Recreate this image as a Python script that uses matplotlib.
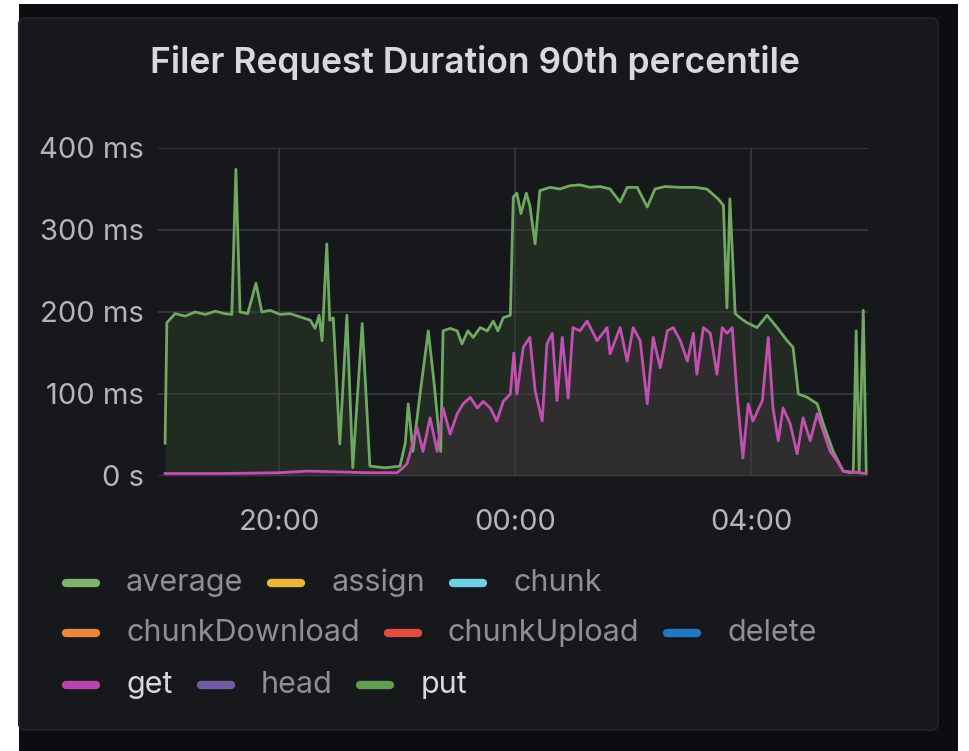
import matplotlib
matplotlib.use('Agg')
import matplotlib.pyplot as plt
from matplotlib.patches import Rectangle, FancyBboxPatch
from matplotlib.lines import Line2D

# hours since 18:00, values in ms
put_h = [0.07, 0.10, 0.24, 0.41, 0.58, 0.75, 0.92, 1.08, 1.20, 1.27, 1.34, 1.47, 1.61, 1.71,
         1.85, 2.02, 2.19, 2.36, 2.53, 2.61, 2.68, 2.73, 2.81, 2.86, 2.92, 3.03, 3.15, 3.25,
         3.41, 3.54, 3.80, 4.05, 4.14, 4.19, 4.27, 4.39, 4.53, 4.63, 4.74, 4.78, 4.90, 5.02,
         5.10, 5.20, 5.29, 5.41, 5.53, 5.63, 5.71, 5.80, 5.92, 5.97, 6.03, 6.10, 6.19, 6.25,
         6.34, 6.42, 6.59, 6.76, 6.93, 7.10, 7.27, 7.44, 7.61, 7.78, 7.90, 8.07, 8.24, 8.37,
         8.54, 8.80, 9.05, 9.25, 9.36, 9.44, 9.53, 9.59, 9.64, 9.73, 9.83, 9.93, 10.10, 10.27,
         10.36, 10.44, 10.61, 10.71, 10.80, 10.95, 11.12, 11.22, 11.39, 11.56, 11.68, 11.73,
         11.78, 11.83, 11.90, 11.95]
put_ms = [40, 187, 198, 195, 200, 197, 201, 198, 197, 374, 200, 198, 235, 200,
          202, 197, 198, 194, 190, 180, 196, 165, 283, 190, 193, 39, 196, 10,
          186, 12, 10, 12, 40, 88, 30, 100, 177, 112, 30, 177, 180, 177,
          161, 177, 169, 181, 177, 189, 177, 193, 196, 340, 345, 320, 345, 330,
          283, 348, 352, 350, 354, 355, 352, 353, 350, 334, 352, 352, 328, 350,
          353, 352, 352, 350, 343, 338, 330, 205, 338, 198, 192, 187, 181, 196,
          188, 181, 165, 157, 100, 96, 88, 64, 30, 6, 4, 5,
          177, 5, 202, 5]

get_h = [0.07, 1.0, 2.0, 2.5, 3.0, 3.5, 4.0, 4.10, 4.17, 4.34, 4.44, 4.56, 4.68, 4.78, 4.90,
         5.02, 5.12, 5.24, 5.36, 5.46, 5.58, 5.69, 5.80, 5.92, 5.98, 6.03, 6.14, 6.25, 6.34,
         6.46, 6.54, 6.63, 6.71, 6.80, 6.90, 6.98, 7.10, 7.22, 7.39, 7.56, 7.61, 7.78, 7.90,
         8.00, 8.12, 8.24, 8.34, 8.46, 8.58, 8.68, 8.80, 8.92, 9.02, 9.08, 9.19, 9.31, 9.42,
         9.51, 9.59, 9.68, 9.76, 9.86, 9.95, 10.03, 10.19, 10.29, 10.37, 10.46, 10.54, 10.66,
         10.78, 10.88, 11.0, 11.12, 11.22, 11.34, 11.46, 11.56, 11.95]
get_ms = [3, 3, 4, 6, 5, 4, 4, 10, 15, 59, 30, 71, 30, 83, 51,
          76, 88, 96, 83, 91, 83, 67, 91, 100, 150, 100, 157, 169, 104,
          67, 161, 174, 92, 169, 95, 181, 177, 189, 165, 181, 149, 181, 140,
          181, 165, 88, 169, 132, 177, 181, 165, 140, 174, 124, 181, 174, 124,
          181, 174, 181, 100, 22, 88, 67, 92, 169, 83, 43, 83, 64,
          27, 71, 43, 76, 55, 30, 18, 6, 3]

y_ticks = [0, 100, 200, 300, 400]
y_labels = ['0 s', '100 ms', '200 ms', '300 ms', '400 ms']
x_ticks = [2, 6, 10]
x_labels = ['20:00', '00:00', '04:00']

legend_rows = [['average', 'assign', 'chunk'],
               ['chunkDownload', 'chunkUpload', 'delete'],
               ['get', 'head', 'put']]
legend_colors = {'average': '#7EB26D', 'assign': '#EAB839', 'chunk': '#6ED0E0',
                 'chunkDownload': '#EF843C', 'chunkUpload': '#E24D42', 'delete': '#1F78C1',
                 'get': '#BA43A9', 'head': '#705DA0', 'put': '#629E51'}
visible = ['get', 'put']

W, H = 969, 751
fig = plt.figure(figsize=(W / 100, H / 100), dpi=100, facecolor='white')
plt.rcParams['font.family'] = ['Inter', 'DejaVu Sans']

def fx(px):
    return px / W

def fy(py):
    return 1 - py / H

# outer dark frame and panel
fig.add_artist(Rectangle((fx(19), 0), fx(958) - fx(19), fy(4), transform=fig.transFigure,
                         facecolor='#0c0d10', edgecolor='none', zorder=0))
fig.add_artist(FancyBboxPatch((fx(19), fy(730)), fx(938) - fx(19), fy(18) - fy(730),
                              boxstyle='round,pad=0,rounding_size=0.008',
                              transform=fig.transFigure, facecolor='#17181c',
                              edgecolor='#202226', lw=1.5, zorder=0))

fig.text(fx(475), fy(62), 'Filer Request Duration 90th percentile', color='#d8d9da',
         fontsize=25.5, fontweight='semibold', ha='center', va='center')

ax = fig.add_axes([fx(158), fy(476), fx(868) - fx(158), fy(148) - fy(476)])
ax.set_facecolor('none')
for s in ax.spines.values():
    s.set_visible(False)

ax.fill_between(put_h, put_ms, 0, color='#508642', alpha=0.18, lw=0, zorder=1)
ax.fill_between(get_h, get_ms, 0, color='#BA43A9', alpha=0.10, lw=0, zorder=1)
ax.plot(put_h, put_ms, color='#6fa860', lw=2.0, zorder=3)
ax.plot(get_h, get_ms, color='#c44fb2', lw=2.0, zorder=3)

ax.set_xlim(-0.05, 11.98)
ax.set_ylim(0, 400)
ax.set_yticks(y_ticks)
ax.set_yticklabels(y_labels)
ax.set_xticks(x_ticks)
ax.set_xticklabels(x_labels)
ax.tick_params(length=0, colors='#b4b5ba', labelsize=21)
ax.tick_params(axis='y', pad=10)
ax.tick_params(axis='x', pad=24)
ax.grid(True, color='#3a3b40', lw=1.2, zorder=0)

# legend, flowed left to right like grafana
renderer = fig.canvas.get_renderer()
row_y = [583, 633, 685]
for names, ry in zip(legend_rows, row_y):
    x = 66
    for name in names:
        fig.add_artist(Line2D([fx(x), fx(x + 30)], [fy(ry), fy(ry)], transform=fig.transFigure,
                              color=legend_colors[name], lw=6, solid_capstyle='round'))
        tc = '#d8d9da' if name in visible else '#8e8f94'
        t = fig.text(fx(x + 60), fy(ry), name, color=tc, fontsize=22, ha='left', va='center')
        bb = t.get_window_extent(renderer)
        x = bb.x1 + 28

fig.savefig('out.png', dpi=100, facecolor=fig.get_facecolor())
